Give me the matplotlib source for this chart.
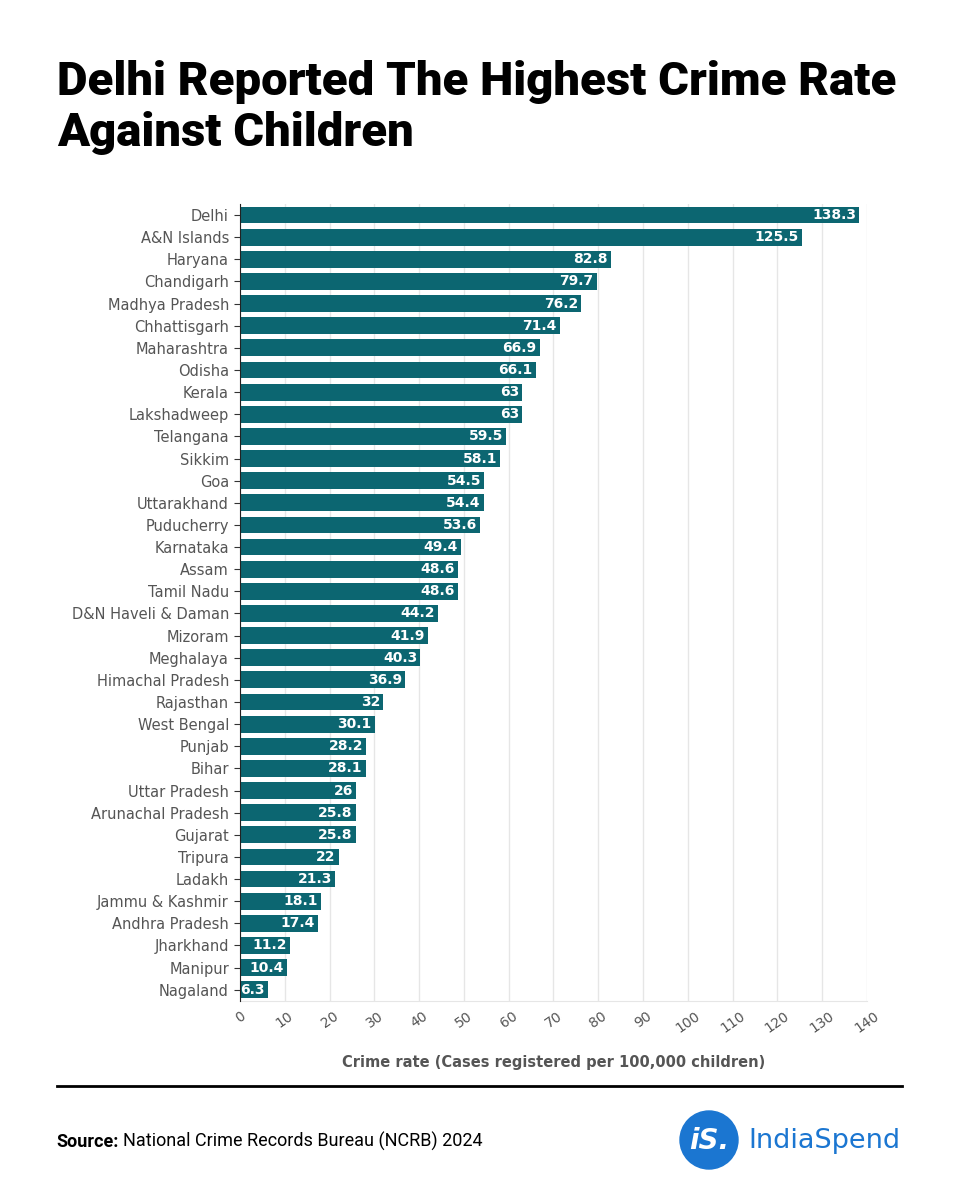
import matplotlib.pyplot as plt
from matplotlib.patches import Circle

states = ['Delhi', 'A&N Islands', 'Haryana', 'Chandigarh', 'Madhya Pradesh',
          'Chhattisgarh', 'Maharashtra', 'Odisha', 'Kerala', 'Lakshadweep',
          'Telangana', 'Sikkim', 'Goa', 'Uttarakhand', 'Puducherry',
          'Karnataka', 'Assam', 'Tamil Nadu', 'D&N Haveli & Daman', 'Mizoram',
          'Meghalaya', 'Himachal Pradesh', 'Rajasthan', 'West Bengal', 'Punjab',
          'Bihar', 'Uttar Pradesh', 'Arunachal Pradesh', 'Gujarat', 'Tripura',
          'Ladakh', 'Jammu & Kashmir', 'Andhra Pradesh', 'Jharkhand', 'Manipur',
          'Nagaland']
rates = [138.3, 125.5, 82.8, 79.7, 76.2, 71.4, 66.9, 66.1, 63, 63,
         59.5, 58.1, 54.5, 54.4, 53.6, 49.4, 48.6, 48.6, 44.2, 41.9,
         40.3, 36.9, 32, 30.1, 28.2, 28.1, 26, 25.8, 25.8, 22,
         21.3, 18.1, 17.4, 11.2, 10.4, 6.3]
xticks = list(range(0, 141, 10))

bar_color = '#0c6671'
grey = '#555555'

fig = plt.figure(figsize=(9.6, 12), dpi=100)
ax = fig.add_axes([0.25, 0.166, 0.653, 0.664])

ypos = range(len(states))
ax.barh(ypos, rates, height=0.76, color=bar_color, zorder=3)
for y, v in zip(ypos, rates):
    ax.text(v - 0.7, y, f'{v:g}', ha='right', va='center', color='white',
            fontsize=10, fontweight='bold', zorder=4)

ax.set_ylim(len(states) - 0.5, -0.5)
ax.set_xlim(0, 140)
ax.set_yticks(list(ypos))
ax.set_yticklabels(states, fontsize=10.5, color=grey)
ax.set_xticks(xticks)
ax.set_xticklabels([str(t) for t in xticks], rotation=35, fontsize=10,
                   color=grey, ha='center', va='top')
ax.tick_params(axis='y', length=4, width=0.8, color='#333333', pad=4)
ax.tick_params(axis='x', length=0, pad=6)
ax.grid(axis='x', color='#e6e6e6', linewidth=1, zorder=0)
for s in ['top', 'right']:
    ax.spines[s].set_visible(False)
ax.spines['bottom'].set_color('#e6e6e6')
ax.spines['left'].set_color('#222222')
ax.spines['left'].set_zorder(5)
ax.set_xlabel('Crime rate (Cases registered per 100,000 children)',
              fontsize=10.5, fontweight='bold', color=grey, labelpad=14)

fig.text(0.059, 0.95, 'Delhi Reported The Highest Crime Rate\nAgainst Children',
         fontsize=34, fontweight='heavy', family='Roboto', color='black',
         ha='left', va='top', linespacing=1.2)

fig.add_artist(plt.Line2D([0.059, 0.94], [0.095, 0.095], color='black',
                          linewidth=2, transform=fig.transFigure))

src = fig.text(0.059, 0.044, 'Source:', fontsize=13, fontweight='bold',
               family='Roboto', ha='left', va='baseline')
fig.canvas.draw()
bb = src.get_window_extent().transformed(fig.transFigure.inverted())
fig.text(bb.x1 + 0.004, 0.044, 'National Crime Records Bureau (NCRB) 2024',
         fontsize=13, family='Roboto', ha='left', va='baseline')

logo_ax = fig.add_axes([0, 0, 1, 1], facecolor='none')
logo_ax.set_xlim(0, 960)
logo_ax.set_ylim(1200, 0)
logo_ax.axis('off')
logo_ax.add_patch(Circle((709, 1140), 29, color='#1b76d1'))
logo_ax.text(709, 1141, 'iS.', color='white', fontsize=20, fontweight='bold',
             style='italic', ha='center', va='center')
logo_ax.text(748, 1141, 'IndiaSpend', color='#1b76d1', fontsize=19.5,
             ha='left', va='center')

fig.savefig('out.png', dpi=100, facecolor='white')
